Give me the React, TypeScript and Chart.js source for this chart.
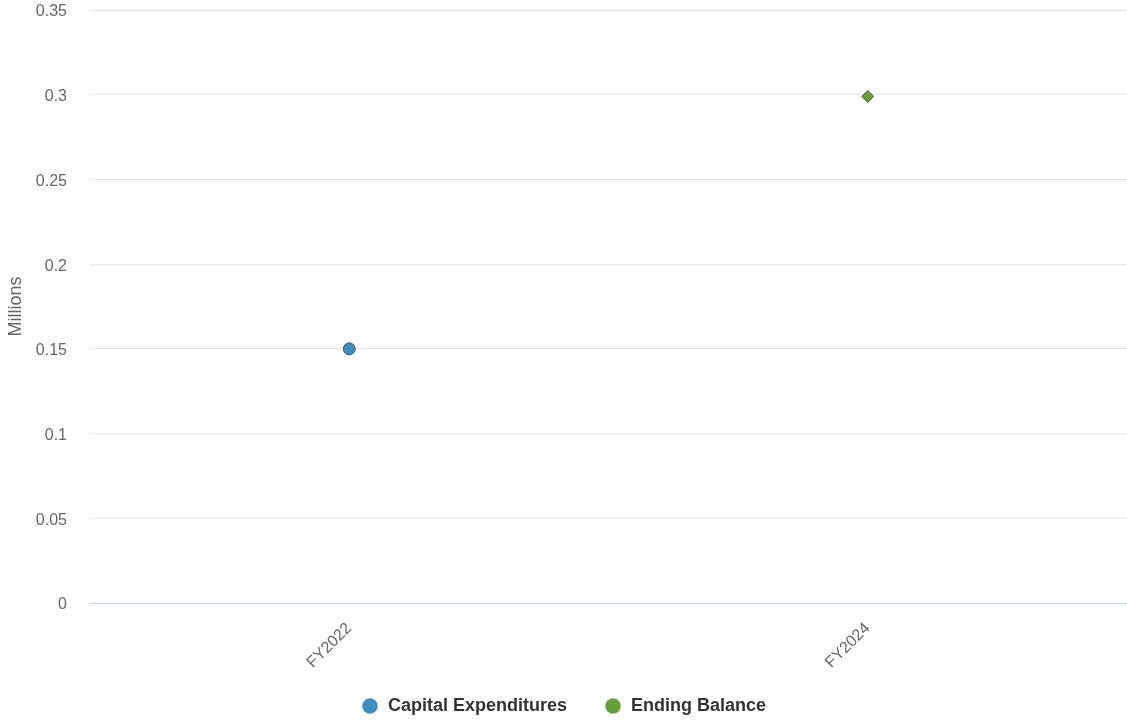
import React, { useEffect, useRef } from "react";
import { Chart, registerables } from "chart.js";

Chart.register(...registerables);

const categories = ["FY2022", "FY2024"];
const capitalExpenditures = [0.15, null];
const endingBalance = [null, 0.299];
const yTicks = [0, 0.05, 0.1, 0.15, 0.2, 0.25, 0.3, 0.35];

const FONT = "Liberation Sans, Arial, Helvetica, sans-serif";

export default function App() {
  const ref = useRef<HTMLCanvasElement>(null);
  useEffect(() => {
    document.body.style.margin = "0";
    document.body.style.overflow = "hidden";
    const ctx = ref.current!.getContext("2d")!;
    const chart = new Chart(ctx, {
      type: "line",
      data: {
        labels: categories,
        datasets: [
          {
            label: "Capital Expenditures",
            data: capitalExpenditures,
            showLine: false,
            pointStyle: "circle",
            pointRadius: 6,
            pointHoverRadius: 6,
            backgroundColor: "#3f8ebf",
            borderColor: "#555",
            pointBorderWidth: 1,
          },
          {
            label: "Ending Balance",
            data: endingBalance,
            showLine: false,
            pointStyle: "rectRot",
            pointRadius: 6,
            pointHoverRadius: 6,
            backgroundColor: "#67a03a",
            borderColor: "#555",
            pointBorderWidth: 1,
          },
        ],
      },
      options: {
        animation: false,
        responsive: false,
        maintainAspectRatio: false,
        layout: { autoPadding: false, padding: { top: 10, right: 0, left: 0, bottom: -2 } },
        plugins: {
          tooltip: { enabled: false },
          legend: {
            position: "bottom",
            labels: {
              usePointStyle: true,
              pointStyle: "circle",
              boxWidth: 18,
              boxHeight: 11,
              padding: 37,
              color: "#333",
              font: { family: FONT, size: 18, weight: "bold" },
              generateLabels: (c: any) =>
                c.data.datasets.map((d: any, i: number) => ({
                  text: d.label,
                  fillStyle: d.backgroundColor,
                  strokeStyle: d.backgroundColor,
                  lineWidth: 0,
                  pointStyle: "circle",
                  datasetIndex: i,
                  fontColor: "#333",
                })),
            },
          },
        },
        scales: {
          x: {
            type: "category",
            offset: true,
            grid: { display: false, drawTicks: false },
            border: { display: true, color: "#ccd6eb", width: 1 },
            ticks: {
              minRotation: 45,
              maxRotation: 45,
              padding: 16,
              color: "#666",
              font: { family: FONT, size: 16 },
            },
            afterFit: (s: any) => {
              s.height = 57;
              s.paddingLeft = 0;
              s.paddingRight = 0;
              if (s._margins) s._margins.right = 0;
              s._computeLabelArea = () => undefined;
            },
          },
          y: {
            min: 0,
            max: 0.35,
            afterBuildTicks: (s: any) => {
              s.ticks = yTicks.map((v) => ({ value: v }));
            },
            grid: {
              color: (c: any) => (c.tick && c.tick.value === 0 ? "#ccd6eb" : "#e6e6e6"),
              drawTicks: true,
              tickLength: 23,
              tickColor: "rgba(0,0,0,0)",
            },
            border: { display: false },
            ticks: {
              padding: 0,
              labelOffset: 2,
              color: "#666",
              font: { family: FONT, size: 16 },
              callback: (v: any) => String(Number(v)),
            },
            title: {
              display: true,
              text: "Millions",
              color: "#666",
              padding: { top: 5, bottom: 0 },
              font: { family: FONT, size: 18 },
            },
            afterFit: (s: any) => {
              s.width = 90;
              s.paddingTop = 0;
              s.paddingBottom = 0;
            },
          },
        },
      },
    });
    return () => chart.destroy();
  }, []);
  return (
    <div style={{ width: 1127, height: 723, overflow: "hidden" }}>
      <canvas ref={ref} width={1127} height={723} style={{ display: "block" }} />
    </div>
  );
}
